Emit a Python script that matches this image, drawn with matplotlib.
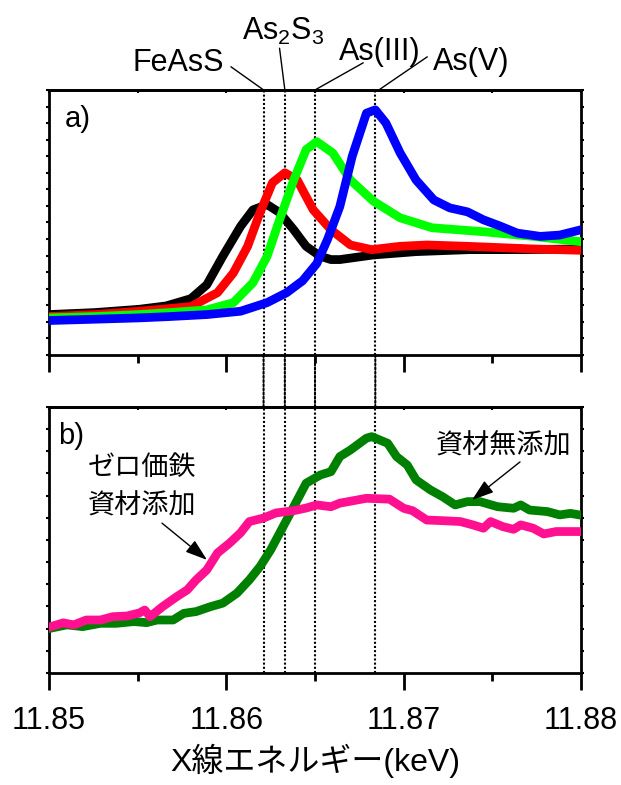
import matplotlib
matplotlib.use("Agg")
import matplotlib.pyplot as plt
from matplotlib import font_manager
from matplotlib.patches import ConnectionPatch
from matplotlib.ticker import MultipleLocator, NullFormatter

# fonts: narrow latin face if it is there, CJK for the japanese text
installed = {f.name for f in font_manager.fontManager.ttflist}
latin = "Liberation Sans Narrow" if "Liberation Sans Narrow" in installed else "Liberation Sans"
plt.rcParams["font.family"] = [latin, "Noto Sans CJK JP", "DejaVu Sans"]
plt.rcParams["mathtext.fontset"] = "custom"
plt.rcParams["mathtext.rm"] = latin

# ---- panel a: reference spectra (normalised absorbance) ----
e_fe = [11.8500, 11.8526, 11.8551, 11.8566, 11.8580, 11.8589, 11.8598, 11.8608, 11.8615,
        11.8623, 11.8630, 11.8638, 11.8645, 11.8653, 11.8659, 11.8664, 11.8683, 11.8707,
        11.8737, 11.8766, 11.8800]
mu_fe = [0.11, 0.14, 0.19, 0.24, 0.35, 0.56, 0.99, 1.44, 1.69,
         1.77, 1.65, 1.39, 1.14, 0.99, 0.94, 0.94, 1.01, 1.06,
         1.09, 1.09, 1.10]

e_as2s3 = [11.8500, 11.8526, 11.8551, 11.8580, 11.8595, 11.8604, 11.8612, 11.8619, 11.8626,
           11.8633, 11.8640, 11.8649, 11.8659, 11.8670, 11.8682, 11.8698, 11.8713, 11.8736,
           11.8773, 11.8800]
mu_as2s3 = [0.08, 0.11, 0.16, 0.23, 0.44, 0.74, 1.14, 1.65, 2.10,
            2.25, 2.14, 1.69, 1.39, 1.16, 1.09, 1.14, 1.16, 1.14,
            1.10, 1.08]

e_as3 = [11.8500, 11.8526, 11.8551, 11.8568, 11.8589, 11.8604, 11.8615, 11.8623, 11.8630,
         11.8638, 11.8645, 11.8651, 11.8660, 11.8670, 11.8683, 11.8698, 11.8716, 11.8745,
         11.8773, 11.8800]
mu_as3 = [0.06, 0.08, 0.11, 0.14, 0.18, 0.29, 0.59, 0.99, 1.54,
          2.14, 2.60, 2.72, 2.55, 2.14, 1.82, 1.57, 1.42, 1.36,
          1.29, 1.21]

e_as5 = [11.8500, 11.8526, 11.8551, 11.8568, 11.8589, 11.8608, 11.8623, 11.8634, 11.8643,
         11.8651, 11.8657, 11.8664, 11.8671, 11.8679, 11.8684, 11.8690, 11.8698, 11.8707,
         11.8717, 11.8726, 11.8736, 11.8745, 11.8754, 11.8764, 11.8777, 11.8788, 11.8800]
mu_as5 = [0.02, 0.04, 0.06, 0.08, 0.11, 0.16, 0.29, 0.44, 0.62,
          0.88, 1.24, 1.74, 2.50, 3.15, 3.20, 3.00, 2.55, 2.14,
          1.84, 1.72, 1.66, 1.54, 1.45, 1.34, 1.29, 1.31, 1.39]

# ---- panel b: samples ----
e_fe0 = [11.8501, 11.8508, 11.8514, 11.8521, 11.8529, 11.8536, 11.8544, 11.8551, 11.8554,
         11.8557, 11.8564, 11.8572, 11.8578, 11.8583, 11.8589, 11.8595, 11.8602, 11.8608,
         11.8613, 11.8621, 11.8628, 11.8638, 11.8645, 11.8651, 11.8659, 11.8664, 11.8679,
         11.8692, 11.8700, 11.8705, 11.8713, 11.8722, 11.8732, 11.8739, 11.8745, 11.8749,
         11.8756, 11.8762, 11.8766, 11.8773, 11.8779, 11.8786, 11.8792, 11.8799]
mu_fe0 = [0.009, 0.026, 0.017, 0.039, 0.039, 0.054, 0.057, 0.071, 0.084,
          0.054, 0.099, 0.144, 0.175, 0.220, 0.265, 0.341, 0.387, 0.432,
          0.483, 0.499, 0.522, 0.532, 0.544, 0.558, 0.550, 0.566, 0.588,
          0.584, 0.543, 0.532, 0.490, 0.487, 0.483, 0.468, 0.453, 0.483,
          0.460, 0.448, 0.468, 0.453, 0.427, 0.438, 0.438, 0.438]

e_none = [11.8501, 11.8510, 11.8519, 11.8529, 11.8538, 11.8548, 11.8555, 11.8561, 11.8570,
          11.8576, 11.8583, 11.8591, 11.8598, 11.8606, 11.8613, 11.8619, 11.8625, 11.8630,
          11.8638, 11.8645, 11.8653, 11.8659, 11.8664, 11.8670, 11.8679, 11.8682, 11.8691,
          11.8696, 11.8702, 11.8707, 11.8715, 11.8722, 11.8729, 11.8736, 11.8743, 11.8753,
          11.8762, 11.8766, 11.8771, 11.8781, 11.8788, 11.8794, 11.8799]
mu_none = [0.002, 0.017, 0.009, 0.024, 0.024, 0.032, 0.027, 0.039, 0.039,
           0.069, 0.077, 0.099, 0.115, 0.160, 0.220, 0.280, 0.355, 0.430,
           0.550, 0.656, 0.693, 0.708, 0.776, 0.806, 0.859, 0.866, 0.836,
           0.776, 0.738, 0.671, 0.626, 0.595, 0.558, 0.573, 0.573, 0.550,
           0.543, 0.558, 0.535, 0.528, 0.513, 0.520, 0.513]

# white-line positions of the references
edge_names = ["FeAsS", r"As$_{\mathrm{2}}$S$_{\mathrm{3}}$", "As(III)", "As(V)"]
edge_energies = [11.8621, 11.8633, 11.8650, 11.8684]

fig = plt.figure(figsize=(6.21, 7.85), dpi=100)
ax1 = fig.add_axes([0.0789, 0.5478, 0.8567, 0.3376])
ax2 = fig.add_axes([0.0789, 0.1427, 0.8567, 0.3389])

lw = 6.3
ax1.plot(e_fe, mu_fe, color="black", lw=lw, solid_joinstyle="round", zorder=3)
ax1.plot(e_as2s3, mu_as2s3, color="#ff0000", lw=lw, solid_joinstyle="round", zorder=3)
ax1.plot(e_as3, mu_as3, color="#00ff00", lw=lw, solid_joinstyle="round", zorder=3)
ax1.plot(e_as5, mu_as5, color="#0000ff", lw=lw, solid_joinstyle="round", zorder=3)

ax2.plot(e_none, mu_none, color="#008000", lw=lw, solid_joinstyle="round", zorder=3)
ax2.plot(e_fe0, mu_fe0, color="#ff1090", lw=lw, solid_joinstyle="round", zorder=3)

ax1.set_ylim(-0.5, 3.5)
ax2.set_ylim(-0.2, 1.0)

dots = (0, (1.0, 1.0))
dot_lw = 1.5
for ax in (ax1, ax2):
    ax.set_xlim(11.85, 11.88)
    for e in edge_energies:
        ax.axvline(e, color="black", lw=dot_lw, ls=dots, zorder=1)
    for s in ax.spines.values():
        s.set_linewidth(2.0)
    ax.xaxis.set_major_locator(MultipleLocator(0.01))
    ax.xaxis.set_minor_locator(MultipleLocator(0.005))
    ax.tick_params(axis="x", which="major", direction="out", length=12, width=2.0,
                   labelsize=22, pad=12)
    ax.tick_params(axis="x", which="minor", direction="out", length=6, width=2.0)
    ax.tick_params(axis="y", which="both", direction="out", length=2.5, width=1.5,
                   left=True, right=True, labelleft=False)
    top = ax.secondary_xaxis("top")
    top.xaxis.set_major_locator(MultipleLocator(0.005))
    top.xaxis.set_major_formatter(NullFormatter())
    top.tick_params(direction="in", length=2.5, width=1.5)
    top.spines["top"].set_linewidth(2.0)

ax1.yaxis.set_major_locator(MultipleLocator(0.25))
ax2.yaxis.set_major_locator(MultipleLocator(0.1))
ax1.xaxis.set_major_formatter(NullFormatter())
ax2.xaxis.set_major_formatter(plt.FuncFormatter(lambda v, p: f"{v:.2f}"))

# dotted lines continue through the gap between the panels
for e in edge_energies:
    con = ConnectionPatch(xyA=(e, -0.5), coordsA=ax1.transData,
                          xyB=(e, 1.0), coordsB=ax2.transData,
                          color="black", lw=dot_lw, ls=dots)
    fig.add_artist(con)

# reference names with leader lines
name_pos = [(11.85727, 3.79), (11.8632, 4.26), (11.86867, 3.95), (11.8738, 3.80)]
leader_from = [(11.86026, 3.85), (11.8630, 4.13), (11.86772, 3.91), (11.87133, 4.00)]
leader_to = [11.8621, 11.8633, 11.8650, 11.8686]
for name, (tx, ty), (lx, ly), ex in zip(edge_names, name_pos, leader_from, leader_to):
    ax1.text(tx, ty, name, ha="center", va="baseline", fontsize=22, clip_on=False)
    ax1.annotate("", xy=(ex, 3.5), xytext=(lx, ly), annotation_clip=False,
                 arrowprops=dict(arrowstyle="-", lw=1.0, color="black",
                                 shrinkA=0, shrinkB=0))

ax1.text(0.03, 0.89, "a)", transform=ax1.transAxes, fontsize=21, va="center")
ax2.text(0.017, 0.89, "b)", transform=ax2.transAxes, fontsize=21, va="center")

# sample annotations
ax2.text(11.85524, 0.723, "ゼロ価鉄", ha="center", va="center", fontsize=19.5)
ax2.text(11.85524, 0.551, "資材添加", ha="center", va="center", fontsize=19.5)
ax2.text(11.87566, 0.82, "資材無添加", ha="center", va="center", fontsize=19.5)
arrow = dict(arrowstyle="-|>,head_length=0.9,head_width=0.3", mutation_scale=15,
             lw=1.0, color="black", shrinkA=0, shrinkB=0)
ax2.annotate("", xy=(11.85891, 0.310), xytext=(11.85637, 0.476), arrowprops=arrow, zorder=5)
ax2.annotate("", xy=(11.87385, 0.580), xytext=(11.87656, 0.752), arrowprops=arrow, zorder=5)

ax2.set_xlabel("X線エネルギー(keV)", fontsize=23, labelpad=5)

fig.savefig("out.png", dpi=100)
